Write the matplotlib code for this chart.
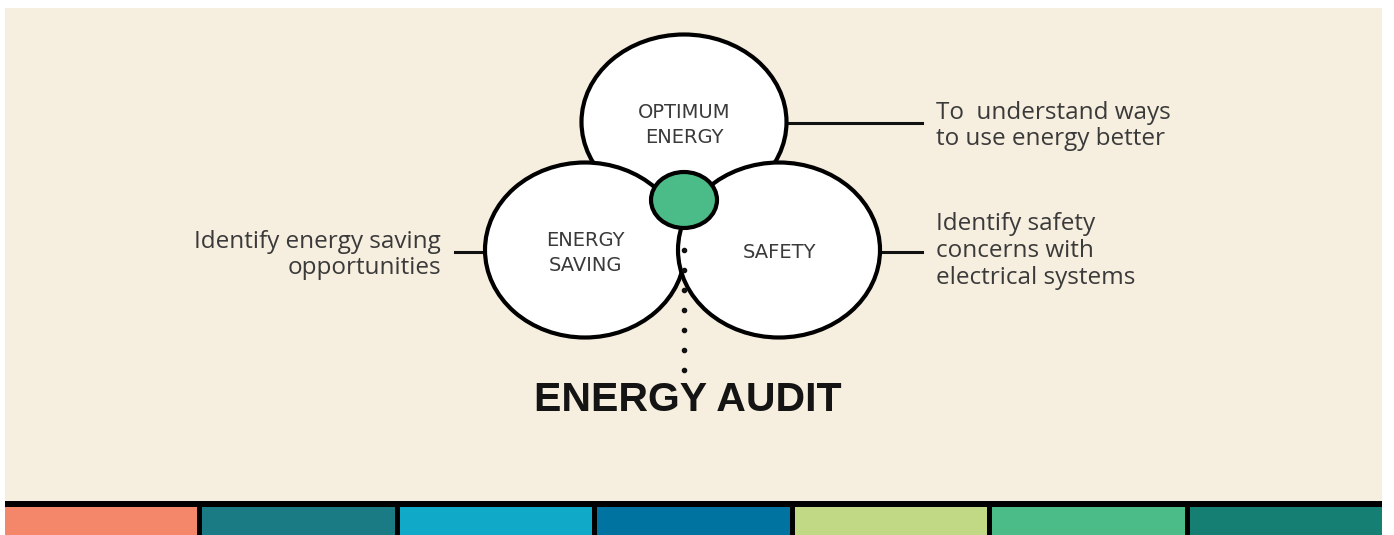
import matplotlib
matplotlib.use('Agg')
import matplotlib.pyplot as plt
from matplotlib.patches import Ellipse, Rectangle

# --- Diagram content ---
circle_labels = ['OPTIMUM\nENERGY', 'ENERGY\nSAVING', 'SAFETY']
descriptions = ['To  understand ways\nto use energy better',
                'Identify energy saving\nopportunities',
                'Identify safety\nconcerns with\nelectrical systems']
title = 'ENERGY AUDIT'
band_colors = ['#F4876A', '#1B7B84', '#11A9C8', '#0073A0',
               '#C1D985', '#4BBC88', '#167F74']

# --- Layout (pixel space, y downwards) ---
W, H = 1394, 535
cream = '#F6EEDE'
text_grey = '#3A3A3A'
centers = [(684, 122), (585, 250), (779, 250)]
sizes = [(205, 175), (200, 175), (202, 175)]

fig = plt.figure(figsize=(W / 100, H / 100), dpi=100)
ax = fig.add_axes([0, 0, 1, 1])
ax.set_xlim(0, W)
ax.set_ylim(H, 0)
ax.axis('off')

# background panel
ax.add_patch(Rectangle((5, 8), 1377, 494, facecolor=cream, edgecolor='none', zorder=0))

# bottom colour band
ax.add_patch(Rectangle((5, 501), 1377, 34, facecolor='black', edgecolor='none', zorder=1))
seg_w = (1382 - 5 + 5) / len(band_colors)
for i, c in enumerate(band_colors):
    x0 = 5 + i * seg_w
    ax.add_patch(Rectangle((x0, 507), seg_w - 5, 30, facecolor=c,
                           edgecolor='none', zorder=2))

# three circles
for i, ((cx, cy), (w, h), lab) in enumerate(zip(centers, sizes, circle_labels)):
    ax.add_patch(Ellipse((cx, cy), w, h, facecolor='white', edgecolor='black',
                         linewidth=3, zorder=3 + i))
    ax.text(cx, cy + 3, lab, ha='center', va='center', fontsize=14,
            color=text_grey, family='DejaVu Sans', linespacing=1.45, zorder=10)

# centre green dot
ax.add_patch(Ellipse((684, 200), 66, 56, facecolor='#4BBC88', edgecolor='black',
                     linewidth=3, zorder=8))

# dotted connector to title
dot_y = [250, 270, 290, 310, 330, 350, 370]
ax.scatter([684] * len(dot_y), dot_y, s=9, color='#111111', zorder=9)

ax.text(688, 400, title, ha='center', va='center', fontsize=29.5,
        fontweight='bold', family='Liberation Sans', color='#141414', zorder=10)

# connector lines + descriptions
ax.plot([787, 922], [123, 123], color='#111111', lw=2.2, zorder=2)
ax.plot([455, 485], [252, 252], color='#111111', lw=2.2, zorder=2)
ax.plot([880, 922], [252, 252], color='#111111', lw=2.2, zorder=2)

desc_font = dict(fontsize=17.5, color=text_grey, family='Open Sans', linespacing=1.15)
ax.text(936, 126, descriptions[0], ha='left', va='center', **desc_font)
ax.text(441, 255, descriptions[1], ha='right', va='center', **desc_font)
ax.text(936, 251, descriptions[2], ha='left', va='center', **desc_font)

fig.savefig('out.png', dpi=100, facecolor='white')
